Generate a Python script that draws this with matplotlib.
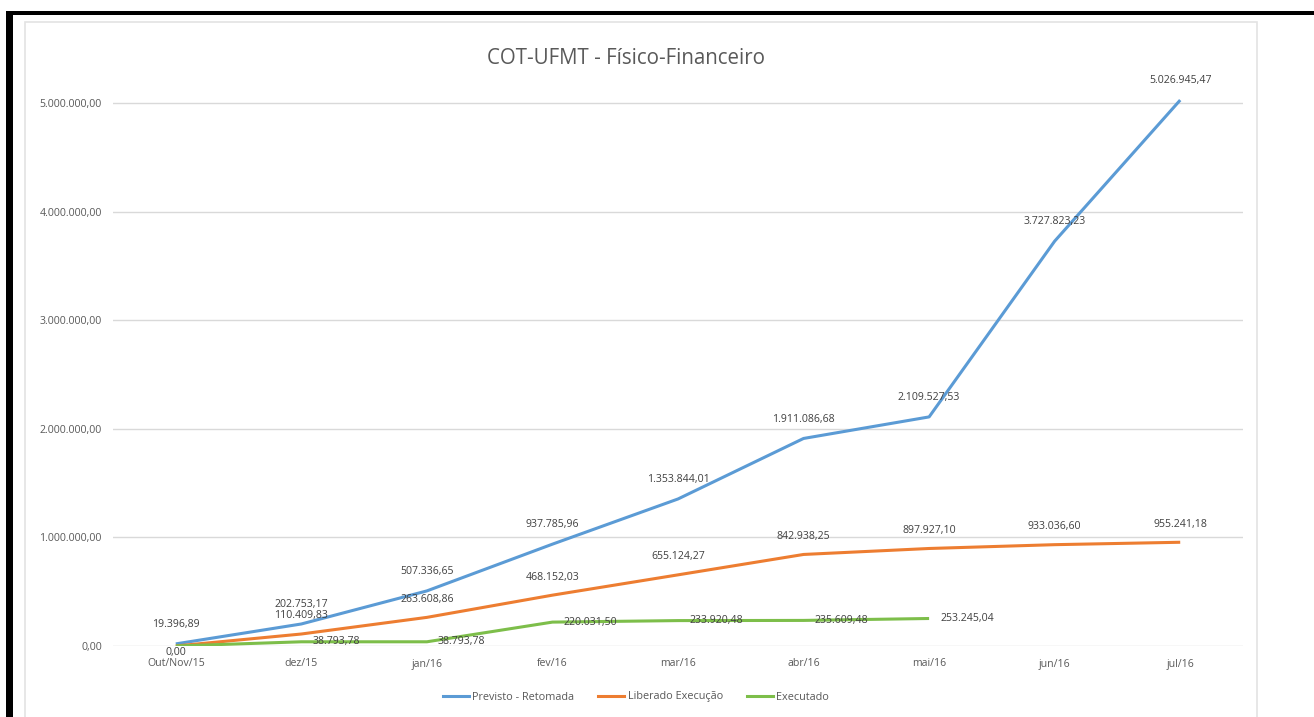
import matplotlib
matplotlib.use("Agg")
import matplotlib.pyplot as plt
from matplotlib.patches import Rectangle
from matplotlib.lines import Line2D

categories = ["Out/Nov/15", "dez/15", "jan/16", "fev/16", "mar/16", "abr/16", "mai/16", "jun/16", "jul/16"]
previsto = [19396.89, 202753.17, 507336.65, 937785.96, 1353844.01, 1911086.68, 2109527.53, 3727823.23, 5026945.47]
liberado = [0.00, 110409.83, 263608.86, 468152.03, 655124.27, 842938.25, 897927.10, 933036.60, 955241.18]
executado = [0.00, 38793.78, 38793.78, 220031.50, 233920.48, 235609.48, 253245.04]
yticks = [0, 1000000, 2000000, 3000000, 4000000, 5000000]
title = "COT-UFMT - Físico-Financeiro"
series_names = ["Previsto - Retomada", "Liberado Execução", "Executado"]

C_BLUE = "#5B9BD5"
C_ORANGE = "#ED7D31"
C_GREEN = "#7DBE4A"
TXT = "#595959"
FONT = ["Open Sans", "DejaVu Sans"]
plt.rcParams["font.family"] = FONT


def br(v):
    s = f"{v:,.2f}"
    return s.replace(",", "X").replace(".", ",").replace("X", ".")


W, H = 1314, 717
fig = plt.figure(figsize=(W / 100, H / 100), dpi=100)
fig.patch.set_facecolor("white")

# outer black frame (top and left)
fig.patches.append(Rectangle((6 / W, 0), 7 / W, 1 - 11 / H, transform=fig.transFigure,
                             facecolor="black", edgecolor="none", zorder=-5))
fig.patches.append(Rectangle((6 / W, 1 - 15 / H), 1 - 6 / W, 4 / H, transform=fig.transFigure,
                             facecolor="black", edgecolor="none", zorder=-5))
# chart card
fig.patches.append(Rectangle((25 / W, -0.01), (1257 - 25) / W, 1 - 22 / H + 0.01,
                             transform=fig.transFigure, facecolor="white",
                             edgecolor="#E3E3E3", linewidth=1.2, zorder=-5))

ymax = 5150000
px_per = 108.6 / 1e6
ax_top = 646 - ymax * px_per
ax = fig.add_axes([113 / W, 1 - 646 / H, (1243 - 113) / W, (646 - ax_top) / H])
ax.set_zorder(2)
ax.set_facecolor("none")
x = list(range(len(categories)))
ax.set_xlim(-0.5, len(categories) - 0.5)
ax.set_ylim(0, ymax)

for t in yticks:
    ax.axhline(t, color="#D9D9D9", lw=1.0, zorder=1)
for s in ax.spines.values():
    s.set_visible(False)
ax.set_yticks(yticks)
ax.set_yticklabels([br(t) for t in yticks], fontsize=7.6, color=TXT)
ax.set_xticks(x)
ax.set_xticklabels(categories, fontsize=7.6, color=TXT)
ax.tick_params(axis="x", length=0, pad=9)
ax.tick_params(axis="y", length=0, pad=8)

lw = 2.2
ax.plot(x, previsto, color=C_BLUE, lw=lw, zorder=3, solid_capstyle="butt")
ax.plot(x, liberado, color=C_ORANGE, lw=lw, zorder=3, solid_capstyle="butt")
ax.plot(x[:len(executado)], executado, color=C_GREEN, lw=lw, zorder=3, solid_capstyle="butt")

lblkw = dict(fontsize=7.6, color="#404040", zorder=5)
for xi, v in zip(x, previsto):
    ax.annotate(br(v), (xi, v), xytext=(0, 14), textcoords="offset points",
                ha="center", va="center", **lblkw)
for i, (xi, v) in enumerate(zip(x, liberado)):
    if i == 0:
        ax.annotate(br(v), (xi, v), xytext=(0, -5), textcoords="offset points",
                    ha="center", va="center", **lblkw)
    else:
        ax.annotate(br(v), (xi, v), xytext=(0, 13), textcoords="offset points",
                    ha="center", va="center", **lblkw)
for i, (xi, v) in enumerate(zip(x, executado)):
    if i == 0:
        continue
    ax.annotate(br(v), (xi, v), xytext=(8, 0), textcoords="offset points",
                ha="left", va="center", **lblkw)

fig.text(626 / W, 1 - 58 / H, title, ha="center", va="center", fontsize=14.8, color=TXT)

handles = [Line2D([], [], color=c, lw=2.2) for c in (C_BLUE, C_ORANGE, C_GREEN)]
fig.legend(handles, series_names, loc="center", bbox_to_anchor=(636 / W, 1 - 697 / H),
           ncol=3, frameon=False, fontsize=7.8, labelcolor=TXT, handlelength=2.4,
           handletextpad=0.3, columnspacing=2.2)

fig.savefig("out.png", dpi=100)
